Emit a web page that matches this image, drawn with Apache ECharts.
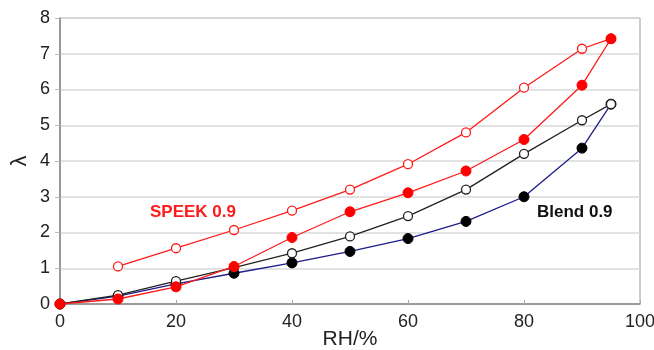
<!DOCTYPE html>
<html><head><meta charset="utf-8">
<script src="https://cdn.jsdelivr.net/npm/echarts@6/dist/echarts.min.js"></script>
<style>html,body{margin:0;padding:0;background:#fff}#c{width:654px;height:350px}</style>
</head><body><div id="c"></div>
<script>
const xTicks = [0, 20, 40, 60, 80, 100];
const yTicks = [0, 1, 2, 3, 4, 5, 6, 7, 8];
const speekOpenX = [10, 20, 30, 40, 50, 60, 70, 80, 90, 95];
const speekOpen = [1.05, 1.56, 2.07, 2.61, 3.20, 3.91, 4.80, 6.05, 7.14, 7.42];
const speekFilledX = [0, 10, 20, 30, 40, 50, 60, 70, 80, 90, 95];
const speekFilled = [0, 0.14, 0.48, 1.05, 1.86, 2.58, 3.11, 3.72, 4.60, 6.12, 7.42];
const blendOpenX = [0, 10, 20, 30, 40, 50, 60, 70, 80, 90, 95];
const blendOpen = [0, 0.25, 0.64, 1.02, 1.42, 1.89, 2.46, 3.20, 4.20, 5.14, 5.59];
const blendFilledX = [0, 10, 20, 30, 40, 50, 60, 70, 80, 90, 95];
const blendFilled = [0, 0.22, 0.56, 0.86, 1.15, 1.47, 1.83, 2.31, 3.00, 4.36, 5.59];

const zip = (xs, ys) => xs.map((x, i) => [x, ys[i]]);
const font = 'Liberation Sans, Arial, sans-serif';

const chart = echarts.init(document.getElementById('c'));
chart.setOption({
  animation: false,
  grid: { left: 60, right: 14, top: 18, bottom: 46, show: true, borderColor: '#9a9a9a', borderWidth: 1,
          containLabel: false, outerBoundsMode: 'none' },
  xAxis: {
    type: 'value', min: 0, max: 100, interval: 20,
    name: 'RH/%', nameLocation: 'middle', nameGap: 25, nameMoveOverlap: false,
    nameTextStyle: { fontFamily: font, fontSize: 21, color: '#222' },
    axisLine: { show: true, lineStyle: { color: '#888', width: 1.5 } },
    axisTick: { show: true, inside: true, length: 4, lineStyle: { color: '#aaa' } },
    splitLine: { show: false },
    axisLabel: { fontFamily: font, fontSize: 18, color: '#222', margin: 9 }
  },
  yAxis: {
    type: 'value', min: 0, max: 8, interval: 1,
    name: 'λ', nameLocation: 'middle', nameGap: 29, nameMoveOverlap: false,
    nameTextStyle: { fontFamily: font, fontSize: 22, color: '#222' },
    axisLine: { show: true, lineStyle: { color: '#888', width: 1.5 } },
    axisTick: { show: true, length: 5, lineStyle: { color: '#bbb' } },
    splitLine: { show: true, lineStyle: { color: '#d8d8d8', width: 1.5 } },
    axisLabel: { fontFamily: font, fontSize: 18, color: '#222', margin: 10 }
  },
  series: [
    { type: 'line', data: zip(blendFilledX, blendFilled), symbol: 'circle', symbolSize: 10,
      lineStyle: { color: '#1c1c8a', width: 1.3 }, itemStyle: { color: '#000', borderColor: '#000' }, z: 2 },
    { type: 'line', data: zip(blendOpenX, blendOpen), symbol: 'circle', symbolSize: 9,
      lineStyle: { color: '#222', width: 1.3 }, itemStyle: { color: '#fff', borderColor: '#222', borderWidth: 1.3 }, z: 3 },
    { type: 'line', data: zip(speekOpenX, speekOpen), symbol: 'circle', symbolSize: 9,
      lineStyle: { color: '#ff1a1a', width: 1.3 }, itemStyle: { color: '#fff', borderColor: '#ff1a1a', borderWidth: 1.3 }, z: 4 },
    { type: 'line', data: zip(speekFilledX, speekFilled), symbol: 'circle', symbolSize: 10,
      lineStyle: { color: '#ff1a1a', width: 1.3 }, itemStyle: { color: '#ff0000', borderColor: '#ff0000' }, z: 5 }
  ],
  graphic: [
    { type: 'text', left: 150, top: 204, style: { text: 'SPEEK 0.9', fill: '#ff1a1a', font: 'bold 17px ' + font } },
    { type: 'text', left: 537, top: 204, style: { text: 'Blend 0.9', fill: '#111', font: 'bold 17px ' + font } }
  ]
});
</script></body></html>
